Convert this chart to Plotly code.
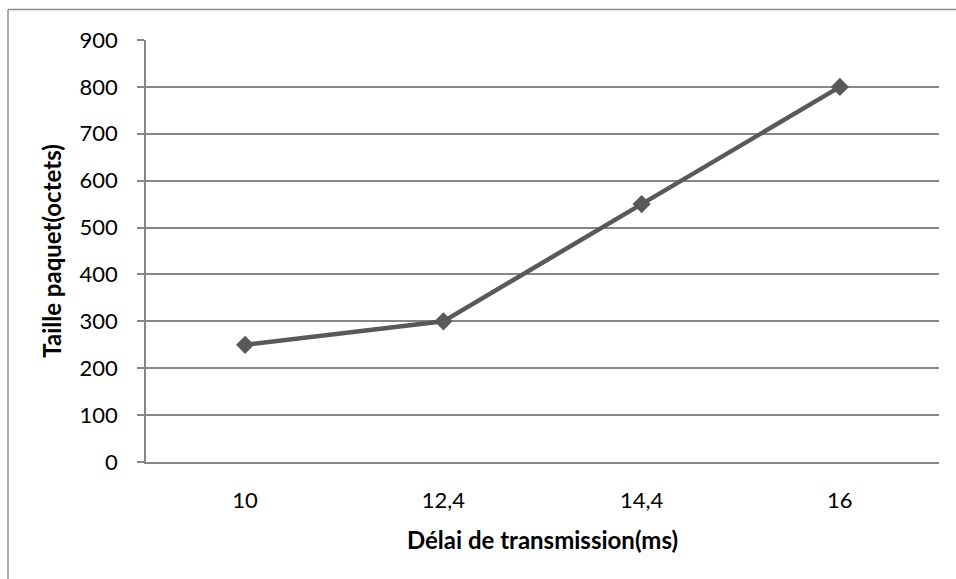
import plotly.graph_objects as go

categories = ["10", "12,4", "14,4", "16"]
values = [250, 300, 550, 800]
y_ticks = [0, 100, 200, 300, 400, 500, 600, 700, 800, 900]

W, H = 956, 579
L, R, T, B = 146, 17, 39.5, 117
pw = W - L - R
ph = H - T - B

fig = go.Figure()
fig.add_trace(go.Scatter(
    x=categories, y=values, mode="lines+markers",
    line=dict(color="#595959", width=4.5),
    marker=dict(symbol="diamond", size=14, color="#595959"),
    showlegend=False, hoverinfo="skip",
))

font_family = "Lato, 'Open Sans', sans-serif"
grid = "#868686"

fig.update_layout(
    width=W, height=H,
    margin=dict(l=L, r=R, t=T, b=B),
    paper_bgcolor="white", plot_bgcolor="white",
    font=dict(family=font_family, size=22, color="black"),
    xaxis=dict(
        type="category", range=[-0.5, 3.5],
        showgrid=False, showline=True, linecolor=grid, linewidth=1.5,
        ticks="", tickfont=dict(size=22), ticklabelstandoff=18,
        title=dict(text="<b>Délai de transmission(ms)</b>", font=dict(size=24), standoff=20),
        zeroline=False, fixedrange=True,
    ),
    yaxis=dict(
        range=[0, 900], tickvals=y_ticks,
        showgrid=True, gridcolor=grid, gridwidth=1.5,
        showline=True, linecolor=grid, linewidth=1.5,
        ticks="outside", ticklen=7, tickcolor=grid, tickwidth=1.5,
        tickfont=dict(size=22), ticklabelstandoff=15,
        title=dict(text="<b>Taille paquet(octets)</b>", font=dict(size=24), standoff=11),
        zeroline=False, fixedrange=True,
    ),
    shapes=[
        dict(type="line", xref="paper", yref="paper",
             x0=(8 - L) / pw, x1=(W + 5 - L) / pw,
             y0=1 + (T - 9) / ph, y1=1 + (T - 9) / ph,
             line=dict(color="#8c8c8c", width=1.5)),
        dict(type="line", xref="paper", yref="paper",
             x0=(8 - L) / pw, x1=(8 - L) / pw,
             y0=1 + (T - 9) / ph, y1=-(B + 5) / ph,
             line=dict(color="#8c8c8c", width=1.5)),
    ],
)

fig.write_html("out.html")
